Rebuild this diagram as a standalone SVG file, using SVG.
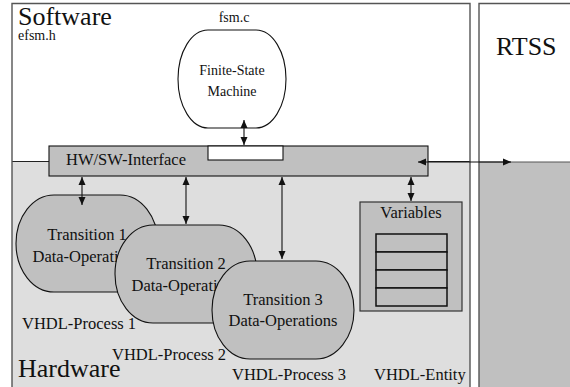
<svg xmlns="http://www.w3.org/2000/svg" width="570" height="387" viewBox="0 0 570 387" font-family="'Liberation Serif', Tinos, 'Times New Roman', 'DejaVu Serif', serif">
<style>
text{font-family:'Liberation Serif',Tinos,'Times New Roman','DejaVu Serif',serif;fill:#111}
.big{font-size:26px}
.sm{font-size:14px}
.t{font-size:16.5px}
.frame{fill:none;stroke:#555;stroke-width:1.4}
.shape{fill:#c0c0c0;stroke:#111;stroke-width:1.1}
.conn{stroke:#111;stroke-width:1.1;fill:none;marker-start:url(#ah);marker-end:url(#ah)}
</style>
<defs>
<marker id="ah" markerUnits="userSpaceOnUse" markerWidth="8" markerHeight="8" refX="8" refY="3.5" orient="auto-start-reverse" viewBox="0 0 8 7">
<path d="M0,0 L8,3.5 L0,7 z" fill="#111"/>
</marker>
</defs>
<rect width="570" height="387" fill="#fff"/>
<g id="software-hardware">
<rect x="12" y="161" width="458" height="230" fill="#dedede"/>
<line x1="12" y1="161.5" x2="470" y2="161.5" stroke="#222" stroke-width="1.2"/>
<path class="frame" d="M12,391 V3.5 H470 V391"/>
<text class="big" x="18" y="25">Software</text>
<text class="sm" x="18" y="40">efsm.h</text>
<text class="big" x="18" y="377">Hardware</text>
</g>
<g id="rtss">
<rect x="479" y="162" width="95" height="230" fill="#c0c0c0"/>
<line x1="479" y1="162" x2="570" y2="162" stroke="#555" stroke-width="1"/>
<path class="frame" d="M479,391 V3.5 H574"/>
<text class="big" x="496" y="55">RTSS</text>
</g>
<g id="fsm">
<text class="sm" x="234" y="22" text-anchor="middle">fsm.c</text>
<rect x="178" y="30" width="108" height="98" rx="30" ry="49" fill="#fff" stroke="#111" stroke-width="1.1"/>
<text class="sm" x="232" y="75" text-anchor="middle">Finite-State</text>
<text class="sm" x="232" y="96" text-anchor="middle">Machine</text>
</g>
<g id="hwsw-interface">
<rect class="shape" x="49" y="146" width="379" height="30"/>
<rect x="208" y="146" width="75" height="14" fill="#fff" stroke="#111" stroke-width="1.1"/>
<text class="t" x="126" y="165" text-anchor="middle">HW/SW-Interface</text>
</g>
<g id="transition1">
<rect class="shape" x="16" y="195" width="142" height="97" rx="38" ry="48.5"/>
<text class="t" x="87" y="240" text-anchor="middle">Transition 1</text>
<text class="t" x="87" y="262" text-anchor="middle">Data-Operations</text>
<text class="t" x="22" y="329">VHDL-Process 1</text>
</g>
<g id="transition2">
<rect class="shape" x="115" y="225" width="142" height="98" rx="38" ry="49"/>
<text class="t" x="186" y="269" text-anchor="middle">Transition 2</text>
<text class="t" x="186" y="291" text-anchor="middle">Data-Operations</text>
<text class="t" x="112" y="360">VHDL-Process 2</text>
</g>
<g id="transition3">
<rect class="shape" x="212" y="261" width="142" height="98" rx="38" ry="49"/>
<text class="t" x="283" y="305" text-anchor="middle">Transition 3</text>
<text class="t" x="283" y="326" text-anchor="middle">Data-Operations</text>
<text class="t" x="232" y="380">VHDL-Process 3</text>
</g>
<g id="variables">
<rect x="360" y="202" width="102" height="109" fill="#c0c0c0" stroke="#333" stroke-width="1.2"/>
<text class="t" x="411" y="218" text-anchor="middle">Variables</text>
<g fill="#c0c0c0" stroke="#111" stroke-width="1.5">
<rect x="376" y="234" width="71" height="18"/>
<rect x="376" y="252" width="71" height="18"/>
<rect x="376" y="270" width="71" height="18"/>
<rect x="376" y="288" width="71" height="18"/>
</g>
<text class="t" x="374" y="380">VHDL-Entity</text>
</g>
<g id="connectors">
<line class="conn" x1="244" y1="120" x2="244" y2="145"/>
<line class="conn" x1="82" y1="177" x2="82" y2="205"/>
<line class="conn" x1="186" y1="177" x2="186" y2="224"/>
<line class="conn" x1="282" y1="177" x2="282" y2="259"/>
<line class="conn" x1="411" y1="177" x2="411" y2="201"/>
<line class="conn" x1="418" y1="162" x2="511" y2="162"/>
</g>
</svg>
